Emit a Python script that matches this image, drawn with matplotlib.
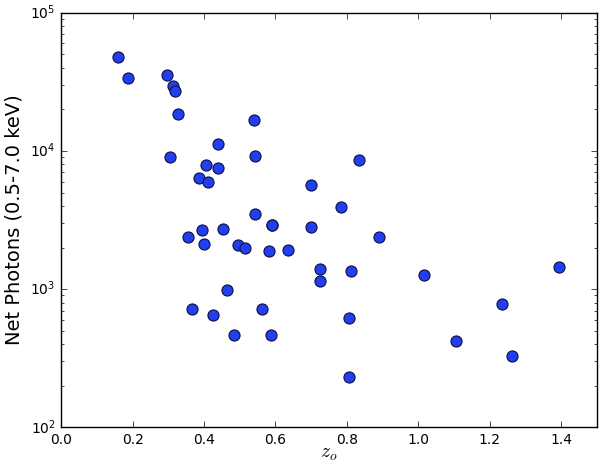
import matplotlib
matplotlib.use("Agg")
import matplotlib.pyplot as plt

plt.style.use("classic")

z_o = [0.159, 0.186, 0.296, 0.312, 0.318, 0.328, 0.541, 0.440, 0.306, 0.544,
       0.406, 0.440, 0.387, 0.412, 0.543, 0.590, 0.591, 0.395, 0.454, 0.355,
       0.833, 0.700, 0.783, 0.701, 0.890, 0.400, 0.494, 0.516, 0.583, 0.635,
       0.464, 0.367, 0.425, 0.563, 0.484, 0.588, 0.724, 0.726, 0.813, 1.015,
       1.395, 1.236, 0.805, 1.107, 1.262, 0.806]
photons = [48100, 33900, 35400, 29500, 27300, 18400, 16800, 11300, 9040, 9140,
           7870, 7550, 6400, 5990, 3520, 2920, 2890, 2680, 2740, 2380,
           8590, 5660, 3950, 2830, 2370, 2130, 2090, 1970, 1890, 1920,
           980, 714, 653, 714, 468, 468, 1390, 1140, 1350, 1270,
           1440, 780, 621, 419, 328, 230]

fig = plt.figure(figsize=(6.0, 4.66), dpi=100, facecolor="white")
ax = fig.add_axes([0.102, 0.083, 0.8925, 0.8897])
ax.plot(z_o, photons, linestyle="none", marker="o", markersize=8,
        markerfacecolor="#2040f0", markeredgecolor="#101040", markeredgewidth=0.8)
ax.set_yscale("log")
ax.set_xlim(0.0, 1.5)
ax.set_ylim(1e2, 1e5)
ax.set_xticks([0.0, 0.2, 0.4, 0.6, 0.8, 1.0, 1.2, 1.4])
ax.tick_params(labelsize=10)
ax.set_xlabel(r"$z_o$", fontsize=14, labelpad=-2)
ax.set_ylabel("Net Photons (0.5-7.0 keV)", fontsize=14)
fig.savefig("out.png", dpi=100, facecolor="white")
